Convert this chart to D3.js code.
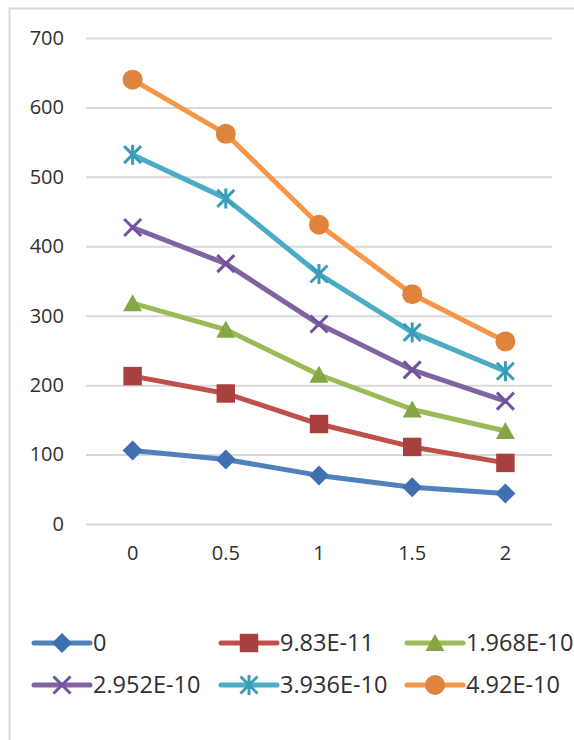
<!DOCTYPE html>
<html>
<head>
<meta charset="utf-8">
<script src="https://cdn.jsdelivr.net/npm/d3@7"></script>
<style>
  html, body { margin: 0; padding: 0; background: #fff; }
  svg { display: block; }
  text { font-family: "Open Sans", "Liberation Sans", sans-serif; fill: #303030; }
</style>
</head>
<body>
<svg id="chart" width="574" height="740"></svg>
<script>
const categories = ["0", "0.5", "1", "1.5", "2"];
const seriesNames = ["0", "9.83E-11", "1.968E-10", "2.952E-10", "3.936E-10", "4.92E-10"];
const s0 = [106, 93, 70, 53, 44];
const s1 = [213, 188, 144, 111, 88];
const s2 = [318, 280, 215, 165, 134];
const s3 = [427, 375, 288, 222, 177];
const s4 = [532, 469, 360, 276, 220];
const s5 = [640, 562, 431, 331, 263];
const yTicks = [0, 100, 200, 300, 400, 500, 600, 700];

const seriesValues = [s0, s1, s2, s3, s4, s5];
const lineColors = ["#4F81BD", "#C0504D", "#9BBB59", "#8064A2", "#4BACC6", "#F79646"];
const markColors = ["#3F6FB0", "#A8403D", "#86A545", "#7152A0", "#3A9DB8", "#E0843C"];
const markers = ["diamond", "square", "triangle", "x", "star", "circle"];

const svg = d3.select("#chart");

// outer frame
svg.append("rect")
  .attr("x", 9.5).attr("y", 8.5)
  .attr("width", 600).attr("height", 760)
  .attr("fill", "none").attr("stroke", "#D9D9D9").attr("stroke-width", 2);

const plot = { left: 86, right: 552, top: 38, bottom: 524 };

const x = d3.scaleBand().domain(categories).range([plot.left, plot.right]).padding(0);
const cx = c => x(c) + x.bandwidth() / 2;
const y = d3.scaleLinear().domain([0, 700]).range([plot.bottom, plot.top]);

// y axis with gridlines
const yAxis = d3.axisLeft(y).tickValues(yTicks).tickSize(-(plot.right - plot.left)).tickPadding(22);
const gy = svg.append("g").attr("transform", `translate(${plot.left},0)`).call(yAxis);
gy.select(".domain").remove();
gy.selectAll(".tick line").attr("stroke", "#D9D9D9").attr("stroke-width", 2);
gy.selectAll(".tick text").style("font-size", "20px").attr("fill", "#303030")
  .style("font-family", '"Open Sans", sans-serif');

// x axis labels
const xAxis = d3.axisBottom(x).tickSize(0).tickPadding(22);
const gx = svg.append("g").attr("transform", `translate(0,${plot.bottom})`).call(xAxis);
gx.select(".domain").remove();
gx.selectAll(".tick text").style("font-size", "20px").attr("fill", "#303030")
  .style("font-family", '"Open Sans", sans-serif');

function drawMarker(g, type, px, py, color) {
  if (type === "diamond") {
    g.append("path")
      .attr("d", d3.symbol().type(d3.symbolSquare).size(200)())
      .attr("transform", `translate(${px},${py}) rotate(45)`)
      .attr("fill", color);
  } else if (type === "square") {
    g.append("path")
      .attr("d", d3.symbol().type(d3.symbolSquare).size(340)())
      .attr("transform", `translate(${px},${py})`)
      .attr("fill", color);
  } else if (type === "triangle") {
    const h = 9;
    g.append("path")
      .attr("d", `M${px},${py - h} L${px + 9.5},${py + h * 0.9} L${px - 9.5},${py + h * 0.9} Z`)
      .attr("fill", color);
  } else if (type === "circle") {
    g.append("circle").attr("cx", px).attr("cy", py).attr("r", 10).attr("fill", color);
  } else if (type === "x") {
    const r = 8.5;
    g.append("path")
      .attr("d", `M${px - r},${py - r} L${px + r},${py + r} M${px - r},${py + r} L${px + r},${py - r}`)
      .attr("stroke", color).attr("stroke-width", 3).attr("fill", "none");
  } else if (type === "star") {
    const r = 8.5;
    g.append("path")
      .attr("d", `M${px - r},${py - r} L${px + r},${py + r} M${px - r},${py + r} L${px + r},${py - r} M${px},${py - r - 1.5} L${px},${py + r + 1.5}`)
      .attr("stroke", color).attr("stroke-width", 3).attr("fill", "none");
  }
}

const line = d3.line().x((d, i) => cx(categories[i])).y(d => y(d));

seriesValues.forEach((vals, si) => {
  const g = svg.append("g");
  g.append("path")
    .datum(vals)
    .attr("d", line)
    .attr("fill", "none")
    .attr("stroke", lineColors[si])
    .attr("stroke-width", 5)
    .attr("stroke-linejoin", "round")
    .attr("stroke-linecap", "round");
  vals.forEach((v, i) => drawMarker(g, markers[si], cx(categories[i]), y(v), markColors[si]));
});

// legend
const legendCols = [34, 221, 407];
const legendRows = [643, 685];
seriesNames.forEach((name, si) => {
  const lx = legendCols[si % 3];
  const ly = legendRows[Math.floor(si / 3)];
  const g = svg.append("g");
  g.append("line")
    .attr("x1", lx).attr("x2", lx + 56).attr("y1", ly).attr("y2", ly)
    .attr("stroke", lineColors[si]).attr("stroke-width", 5).attr("stroke-linecap", "round");
  drawMarker(g, markers[si], lx + 28, ly, markColors[si]);
  g.append("text")
    .attr("x", lx + 59).attr("y", ly)
    .attr("dy", "0.36em")
    .style("font-size", "23.5px")
    .text(name);
});
</script>
</body>
</html>
